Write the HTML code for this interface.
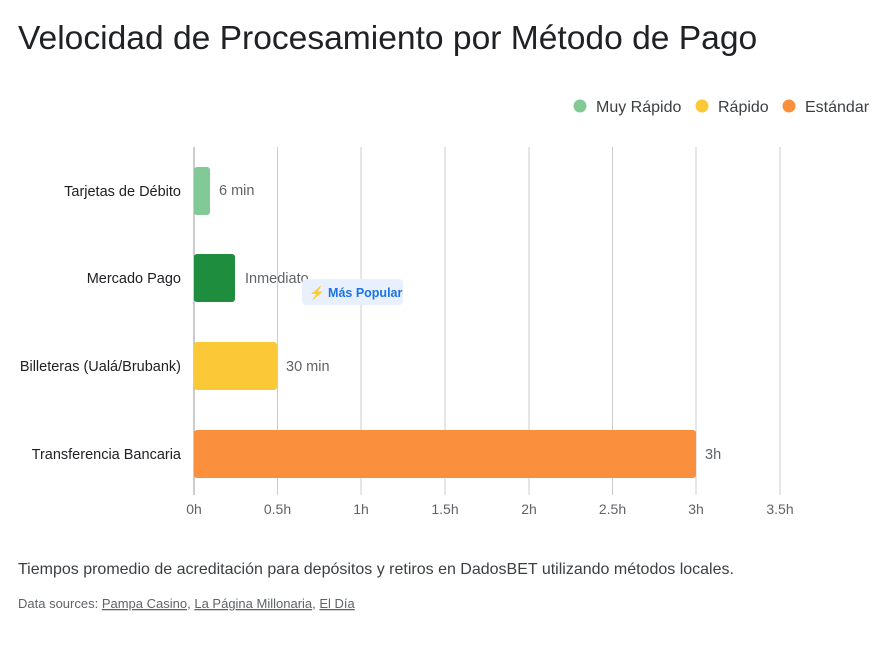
<!DOCTYPE html>
<html><head><meta charset="utf-8"><style>
body{margin:0;background:#fff;font-family:"Liberation Sans",sans-serif;}
</style></head><body>
<svg width="886" height="665" xmlns="http://www.w3.org/2000/svg" font-family="Liberation Sans, sans-serif">
<rect width="886" height="665" fill="#fff"/>
<text x="18" y="49" font-size="33.6" fill="#202124">Velocidad de Procesamiento por Método de Pago</text>
<g font-size="16" fill="#3c4043">
<circle cx="580" cy="106" r="6.5" fill="#81c995"/><text x="596" y="112">Muy Rápido</text>
<circle cx="702" cy="106" r="6.5" fill="#fbc837"/><text x="718" y="112">Rápido</text>
<circle cx="789" cy="106" r="6.5" fill="#fa903e"/><text x="805" y="112">Estándar</text>
</g>
<g stroke="#ccc" stroke-width="1">
<line x1="277.5" y1="147" x2="277.5" y2="495"/><line x1="361" y1="147" x2="361" y2="495"/>
<line x1="445" y1="147" x2="445" y2="495"/><line x1="529" y1="147" x2="529" y2="495"/>
<line x1="612.5" y1="147" x2="612.5" y2="495"/><line x1="696" y1="147" x2="696" y2="495"/>
<line x1="780" y1="147" x2="780" y2="495"/>
</g>
<line x1="194" y1="147" x2="194" y2="495" stroke="#999"/>
<rect x="194" y="167" width="16" height="48" rx="3" fill="#81c995"/>
<rect x="194" y="254" width="41" height="48" rx="3" fill="#1e8e3e"/>
<rect x="194" y="342" width="83" height="48" rx="3" fill="#fbc837"/>
<rect x="194" y="430" width="502" height="48" rx="3" fill="#fa903e"/>
<g font-size="14.5" fill="#202124" text-anchor="end">
<text x="181" y="196">Tarjetas de Débito</text>
<text x="181" y="283">Mercado Pago</text>
<text x="181" y="371">Billeteras (Ualá/Brubank)</text>
<text x="181" y="459">Transferencia Bancaria</text>
</g>
<g font-size="14.5" fill="#5f6368">
<text x="219" y="195">6 min</text>
<text x="245" y="283">Inmediato</text>
<text x="286" y="371">30 min</text>
<text x="705" y="459">3h</text>
</g>
<rect x="302" y="279" width="101" height="26" rx="4" fill="#e8f0fe"/>
<text x="309" y="297" font-size="12.5" font-weight="bold" fill="#1a73e8">⚡ Más Popular</text>
<g font-size="14" fill="#5f6368" text-anchor="middle">
<text x="194" y="514">0h</text><text x="277.5" y="514">0.5h</text><text x="361" y="514">1h</text>
<text x="445" y="514">1.5h</text><text x="529" y="514">2h</text><text x="612.5" y="514">2.5h</text>
<text x="696" y="514">3h</text><text x="780" y="514">3.5h</text>
</g>
<text x="18" y="574" font-size="16" fill="#3c4043">Tiempos promedio de acreditación para depósitos y retiros en DadosBET utilizando métodos locales.</text>
<text x="18" y="608" font-size="13" fill="#5f6368">Data sources: <tspan text-decoration="underline">Pampa Casino</tspan>, <tspan text-decoration="underline">La Página Millonaria</tspan>, <tspan text-decoration="underline">El Día</tspan></text>
</svg>
</body></html>
